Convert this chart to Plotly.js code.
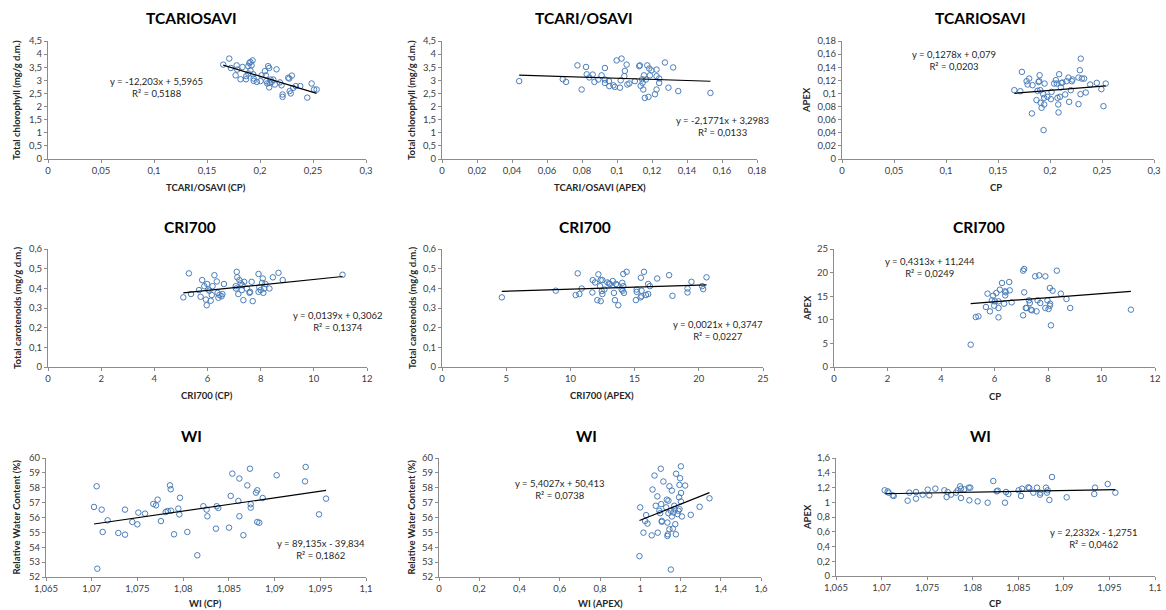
<!DOCTYPE html>
<html>
<head>
<meta charset="utf-8">
<script src="https://cdn.plot.ly/plotly-3.0.1.min.js"></script>
<style>html,body{margin:0;padding:0;background:#fff;}#chart{width:1166px;height:610px;}</style>
</head>
<body>
<div id="chart"></div>
<script>
// ---------- DATA ----------
// Panel 1: TCARI/OSAVI (CP) vs total chlorophyll
const p1_x = [0.1653,0.171,0.1725,0.178,0.177,0.1785,0.1816,0.1835,0.1868,0.187,0.189,0.189,0.190,0.191,0.192,0.191,0.193,0.1936,0.194,0.194,0.197,0.2005,0.2015,0.2046,0.2055,0.206,0.2068,0.2077,0.2087,0.209,0.2087,0.210,0.211,0.2125,0.214,0.2156,0.2188,0.2203,0.2213,0.2213,0.2266,0.2276,0.228,0.229,0.230,0.2313,0.2338,0.238,0.2446,0.2487,0.251,0.2534];
const p1_y = [3.60,3.83,3.47,3.57,3.19,3.41,3.04,3.51,3.04,3.16,3.26,3.54,3.66,3.70,3.57,3.38,3.76,3.23,2.98,3.07,2.94,2.97,3.19,3.35,3.19,2.97,2.88,3.54,3.47,2.90,2.73,3.03,2.94,3.03,2.84,3.42,2.92,2.81,2.46,2.37,3.10,3.07,2.59,2.50,3.18,2.71,2.78,2.78,2.34,2.88,2.65,2.65];
// Panel 2: TCARI/OSAVI (APEX) vs total chlorophyll
const p2_x = [0.0441,0.069,0.0709,0.0774,0.0798,0.0823,0.0827,0.0842,0.0861,0.0871,0.0893,0.0912,0.0931,0.0931,0.0931,0.0954,0.0956,0.0979,0.0988,0.0998,0.1017,0.1021,0.1026,0.1042,0.1045,0.1055,0.1059,0.107,0.1102,0.1127,0.1131,0.1135,0.1144,0.1146,0.115,0.1154,0.1159,0.1165,0.1173,0.118,0.1184,0.1188,0.1197,0.1217,0.1226,0.1226,0.1226,0.1241,0.1241,0.1274,0.1294,0.1321,0.135,0.1534];
const p2_y = [2.97,3.04,2.94,3.57,2.65,3.51,3.23,3.11,3.22,2.94,3.03,3.19,3.47,3.03,2.90,2.97,2.78,2.81,2.75,3.76,2.72,3.00,3.83,3.16,3.36,3.60,2.84,2.88,2.97,3.54,3.57,2.79,3.04,2.90,2.65,3.19,2.33,3.03,3.57,2.37,3.45,3.19,3.38,2.47,2.65,3.16,3.41,3.07,2.90,3.68,2.72,3.49,2.59,2.52];
// Panel 3: TCARI/OSAVI CP vs APEX
const p3_x = [0.1657,0.1714,0.173,0.1775,0.1785,0.180,0.1832,0.1826,0.187,0.188,0.189,0.1896,0.190,0.1906,0.191,0.1919,0.1935,0.1944,0.1944,0.1938,0.1948,0.1976,0.2008,0.2015,0.204,0.2056,0.2066,0.2072,0.2079,0.2082,0.2088,0.2095,0.2104,0.211,0.212,0.2146,0.2159,0.2178,0.2184,0.22,0.221,0.2216,0.2274,0.2274,0.2287,0.2293,0.2296,0.2306,0.2328,0.2344,0.2386,0.245,0.2494,0.2514,0.2536];
const p3_y = [0.105,0.1034,0.1329,0.1187,0.1136,0.1227,0.1126,0.0695,0.0898,0.104,0.1176,0.1187,0.1278,0.105,0.0857,0.0781,0.0989,0.0933,0.0832,0.0441,0.1151,0.0948,0.0913,0.1024,0.1151,0.1202,0.1151,0.0933,0.0832,0.071,0.1293,0.0948,0.109,0.1161,0.1166,0.0984,0.1187,0.1242,0.0872,0.105,0.1187,0.1212,0.1242,0.0837,0.1354,0.0989,0.1531,0.1227,0.1227,0.1014,0.1136,0.1161,0.1065,0.0806,0.1151];
// Panel 4: CRI700 (CP) vs total carotenoids
const p4_x = [5.09,5.30,5.38,5.68,5.74,5.80,5.88,5.94,5.97,5.99,6.03,6.07,6.12,6.16,6.19,6.26,6.35,6.38,6.41,6.45,6.53,6.56,6.62,7.06,7.07,7.10,7.12,7.16,7.20,7.25,7.29,7.31,7.35,7.38,7.48,7.58,7.60,7.66,7.70,7.92,7.92,7.95,8.00,8.05,8.08,8.10,8.13,8.18,8.33,8.46,8.67,8.83,11.08];
const p4_y = [0.354,0.476,0.371,0.391,0.357,0.442,0.411,0.343,0.314,0.422,0.394,0.388,0.337,0.366,0.411,0.467,0.435,0.377,0.352,0.366,0.360,0.371,0.422,0.411,0.399,0.484,0.456,0.371,0.442,0.425,0.391,0.416,0.340,0.433,0.399,0.377,0.382,0.433,0.335,0.473,0.382,0.405,0.391,0.428,0.450,0.377,0.399,0.422,0.399,0.456,0.479,0.442,0.469];
// Panel 5: CRI700 (APEX) vs total carotenoids
const p5_x = [4.66,8.86,10.41,10.57,10.70,10.88,11.71,11.74,11.92,12.10,12.18,12.31,12.36,12.36,12.44,12.49,12.49,12.64,12.88,13.0,13.08,13.3,13.39,13.47,13.55,13.65,13.73,13.99,14.04,14.07,14.12,14.12,14.17,14.38,15.1,15.16,15.16,15.47,15.49,15.54,15.54,15.73,15.88,16.06,16.06,16.19,16.76,17.69,17.95,19.12,19.12,19.43,20.26,20.34,20.6];
const p5_y = [0.354,0.388,0.366,0.476,0.371,0.399,0.379,0.442,0.430,0.340,0.471,0.411,0.335,0.442,0.386,0.442,0.371,0.394,0.430,0.425,0.422,0.437,0.377,0.340,0.422,0.416,0.314,0.394,0.428,0.388,0.411,0.473,0.377,0.484,0.340,0.394,0.382,0.354,0.454,0.388,0.360,0.484,0.366,0.422,0.371,0.411,0.450,0.467,0.362,0.399,0.379,0.433,0.411,0.396,0.456];
// Panel 6: CRI700 CP vs APEX
const p6_x = [5.11,5.30,5.40,5.68,5.74,5.83,5.90,5.95,5.99,6.01,6.07,6.15,6.15,6.15,6.20,6.28,6.36,6.39,6.40,6.42,6.55,6.57,6.64,7.07,7.07,7.11,7.11,7.17,7.20,7.29,7.32,7.36,7.40,7.52,7.57,7.61,7.67,7.71,7.90,7.90,7.98,8.02,8.07,8.07,8.08,8.11,8.17,8.33,8.48,8.69,8.83,11.10];
const p6_y = [4.73,10.59,10.73,12.71,15.54,11.79,14.12,15.11,12.99,13.91,15.68,13.91,12.50,10.52,16.38,17.80,13.42,16.03,15.18,15.82,18.01,16.24,13.70,10.95,20.41,20.76,15.82,12.50,12.50,14.12,13.56,12.15,12.0,19.21,11.79,14.12,19.42,13.56,19.21,12.50,14.12,12.29,12.99,16.74,13.42,8.83,16.17,20.41,15.54,14.41,12.50,12.15];
// Panel 7: WI (CP) vs relative water content
const p7_x = [1.07025,1.07054,1.07061,1.07109,1.0712,1.07174,1.07291,1.07364,1.07364,1.07444,1.07499,1.0751,1.07583,1.07674,1.07703,1.07721,1.07757,1.07809,1.07831,1.07856,1.07864,1.07867,1.079,1.07947,1.07958,1.07966,1.08046,1.08155,1.08221,1.08257,1.08265,1.08359,1.08367,1.08385,1.08502,1.0852,1.08538,1.08604,1.08615,1.08615,1.08659,1.08702,1.08731,1.08739,1.08739,1.08797,1.08811,1.08811,1.08833,1.0887,1.09023,1.09333,1.0934,1.09486,1.09563];
const p7_y = [56.71,58.10,52.56,56.53,55.03,55.81,54.96,56.53,54.85,55.70,55.54,56.33,56.26,56.91,56.82,57.20,55.76,56.37,56.44,58.16,57.90,56.46,54.87,56.6,56.21,57.33,55.03,53.46,56.76,56.53,56.08,55.25,56.76,56.64,55.32,57.45,58.95,57.11,58.62,56.08,54.81,58.16,59.28,56.89,56.66,57.67,57.83,55.70,55.65,57.31,58.84,58.43,59.40,56.21,57.27];
// Panel 8: WI (APEX) vs relative water content
const p8_x = [0.996,0.9996,1.016,1.024,1.029,1.036,1.057,1.061,1.071,1.077,1.085,1.087,1.095,1.099,1.104,1.102,1.107,1.107,1.115,1.129,1.132,1.135,1.135,1.137,1.14,1.14,1.145,1.145,1.152,1.152,1.157,1.157,1.162,1.165,1.169,1.170,1.174,1.177,1.178,1.185,1.19,1.193,1.195,1.195,1.198,1.202,1.202,1.203,1.207,1.223,1.251,1.295,1.344];
const p8_y = [53.40,56.68,54.98,55.77,56.16,55.59,54.80,57.88,58.82,56.79,57.42,54.98,56.45,56.29,56.90,59.28,55.71,55.77,58.42,56.68,57.20,55.66,54.76,54.87,56.29,57.13,58.10,55.21,56.45,52.50,57.81,56.07,55.25,56.34,56.79,56.56,55.55,54.87,58.94,56.23,56.45,57.36,58.19,56.56,58.64,59.44,57.08,57.65,56.07,58.15,56.18,56.72,57.29];
// Panel 9: WI CP vs APEX
const p9_x = [1.07034,1.07067,1.07078,1.07122,1.07133,1.07286,1.07305,1.07378,1.07378,1.07451,1.07506,1.07524,1.0759,1.07689,1.07714,1.07725,1.07762,1.07817,1.07835,1.07861,1.07871,1.07871,1.07908,1.07956,1.07963,1.07974,1.08054,1.08164,1.08226,1.08263,1.08274,1.08354,1.08365,1.08391,1.08504,1.0853,1.08541,1.0861,1.08621,1.08665,1.08705,1.08738,1.08742,1.08804,1.08815,1.08822,1.08841,1.0887,1.09031,1.09334,1.09342,1.09481,1.09565];
const p9_y = [1.162,1.148,1.130,1.094,1.085,1.021,1.130,1.139,1.049,1.103,1.171,1.094,1.184,1.162,1.071,1.139,1.103,1.130,1.162,1.216,1.058,1.184,1.175,1.198,1.026,1.198,1.012,0.994,1.288,1.148,1.157,0.994,1.139,1.112,1.162,1.085,1.184,1.202,1.193,1.130,1.198,1.103,1.130,1.198,1.130,1.162,1.031,1.342,1.067,1.112,1.198,1.247,1.130];

// Panel titles, axis titles, trend-line coefficients and equation labels
const titles = ["TCARIOSAVI","TCARI/OSAVI","TCARIOSAVI","CRI700","CRI700","CRI700","WI","WI","WI"];
const xTitles = ["TCARI/OSAVI (CP)","TCARI/OSAVI (APEX)","CP","CRI700 (CP)","CRI700 (APEX)","CP","WI (CP)","WI (APEX)","CP"];
const yTitles = ["Total chlorophyll (mg/g d.m.)","Total chlorophyll (mg/g d.m.)","APEX","Total carotenoids (mg/g d.m.)","Total carotenoids (mg/g d.m.)","APEX","Relative Water Content (%)","Relative Water Content (%)","APEX"];
const slopes = [-12.203,-2.1771,0.1278,0.0139,0.0021,0.4313,89.135,5.4027,2.2332];
const intercepts = [5.5965,3.2983,0.079,0.3062,0.3747,11.244,-39.834,50.413,-1.2751];
const eqLabels = ["y = -12,203x + 5,5965","y = -2,1771x + 3,2983","y = 0,1278x + 0,079","y = 0,0139x + 0,3062","y = 0,0021x + 0,3747","y = 0,4313x + 11,244","y = 89,135x - 39,834","y = 5,4027x + 50,413","y = 2,2332x - 1,2751"];
const r2Labels = ["R² = 0,5188","R² = 0,0133","R² = 0,0203","R² = 0,1374","R² = 0,0227","R² = 0,0249","R² = 0,1862","R² = 0,0738","R² = 0,0462"];
const xRanges = [[0,0.3],[0,0.18],[0,0.3],[0,12],[0,25],[0,12],[1.065,1.1],[0,1.6],[1.065,1.1]];
const xDticks = [0.05,0.02,0.05,2,5,2,0.005,0.2,0.005];
const yRanges = [[0,4.5],[0,4.5],[0,0.18],[0,0.6],[0,0.6],[0,25],[52,60],[52,60],[0,1.6]];
const yDticks = [0.5,0.5,0.02,0.1,0.1,5,1,1,0.2];

const xs = [p1_x,p2_x,p3_x,p4_x,p5_x,p6_x,p7_x,p8_x,p9_x];
const ys = [p1_y,p2_y,p3_y,p4_y,p5_y,p6_y,p7_y,p8_y,p9_y];

// ---------- LAYOUT GEOMETRY (pixels) ----------
const W = 1166, H = 610;
const plotPx = [ // [left, right, top, bottom]
  [48,366,41,159],[442,757,41,159],[842,1154,41,159],
  [48,367,249,367],[442,763,249,367],[834,1155,249,367],
  [46,366,458,577],[439,761,458,577],[836,1155,458,576]
];
const titlePos = [[191,18],[584,18],[980,18],[190,227],[585,227],[979,227],[191,436],[587,436],[980,436]];
const xTitlePos = [[206,188],[600,188],[996,188],[207,395],[602,395],[995,396],[205,603],[600,603],[995,603]];
const yTitleX = [17,412,807,17,412,807,16,411,807];
const eqPos = [[157,87],[722,127],[954,61],[338,321],[718,330],[930,267],[321,549],[560,489],[1094,538]];

const FONT = "Lato, 'Liberation Sans', sans-serif";
const BLUE = "#4A7EBB";
const AXC = "#8c8c8c";

const traces = [];
const layout = {
  width: W, height: H,
  margin: {l:0, r:0, t:0, b:0},
  paper_bgcolor: "#fff", plot_bgcolor: "#fff",
  showlegend: false,
  separators: ", ",
  font: {family: FONT, size: 9.5, color: "#404040"},
  annotations: []
};

const px2x = v => v / W;
const px2y = v => 1 - v / H;

for (let i = 0; i < 9; i++) {
  const n = i + 1;
  const xa = n === 1 ? "x" : "x" + n;
  const ya = n === 1 ? "y" : "y" + n;
  traces.push({
    type: "scatter", mode: "markers", x: xs[i], y: ys[i], xaxis: xa, yaxis: ya,
    marker: {symbol: "circle-open", size: 5.5, color: BLUE, line: {width: 1, color: BLUE}},
    hoverinfo: "x+y"
  });
  const xmin = Math.min(...xs[i]), xmax = Math.max(...xs[i]);
  const lx = [xmin, xmax];
  traces.push({
    type: "scatter", mode: "lines", x: lx, y: lx.map(v => slopes[i] * v + intercepts[i]),
    xaxis: xa, yaxis: ya, line: {color: "#000", width: 1.2}, hoverinfo: "skip"
  });
  const p = plotPx[i];
  const axCommon = {
    showgrid: false, zeroline: false, showline: true, linecolor: AXC, linewidth: 1,
    ticks: "outside", ticklen: 3, tickcolor: AXC, tickwidth: 1,
    tickfont: {family: FONT, size: 9.5, color: "#404040"}, fixedrange: true
  };
  layout["xaxis" + (n === 1 ? "" : n)] = Object.assign({}, axCommon, {
    domain: [px2x(p[0]), px2x(p[1])], anchor: ya, range: xRanges[i],
    tick0: xRanges[i][0], dtick: xDticks[i]
  });
  layout["yaxis" + (n === 1 ? "" : n)] = Object.assign({}, axCommon, {
    domain: [px2y(p[3]), px2y(p[2])], anchor: xa, range: yRanges[i],
    tick0: yRanges[i][0], dtick: yDticks[i]
  });
  // panel title
  layout.annotations.push({
    xref: "paper", yref: "paper", x: px2x(titlePos[i][0]), y: px2y(titlePos[i][1]),
    text: "<b>" + titles[i] + "</b>", showarrow: false, xanchor: "center", yanchor: "middle",
    font: {family: FONT, size: 15.5, color: "#000"}
  });
  // x axis title
  layout.annotations.push({
    xref: "paper", yref: "paper", x: px2x(xTitlePos[i][0]), y: px2y(xTitlePos[i][1]),
    text: "<b>" + xTitles[i] + "</b>", showarrow: false, xanchor: "center", yanchor: "middle",
    font: {family: FONT, size: 9.5, color: "#262626"}
  });
  // y axis title
  layout.annotations.push({
    xref: "paper", yref: "paper", x: px2x(yTitleX[i]), y: px2y((p[2] + p[3]) / 2),
    text: "<b>" + yTitles[i] + "</b>", showarrow: false, textangle: -90,
    xanchor: "center", yanchor: "middle",
    font: {family: FONT, size: 9.5, color: "#262626"}
  });
  // equation
  layout.annotations.push({
    xref: "paper", yref: "paper", x: px2x(eqPos[i][0]), y: px2y(eqPos[i][1]),
    text: eqLabels[i] + "<br>" + r2Labels[i], showarrow: false, align: "center",
    xanchor: "center", yanchor: "middle",
    font: {family: FONT, size: 9.5, color: "#262626"}
  });
}

Plotly.newPlot("chart", traces, layout, {displayModeBar: false, staticPlot: true});
</script>
</body>
</html>
